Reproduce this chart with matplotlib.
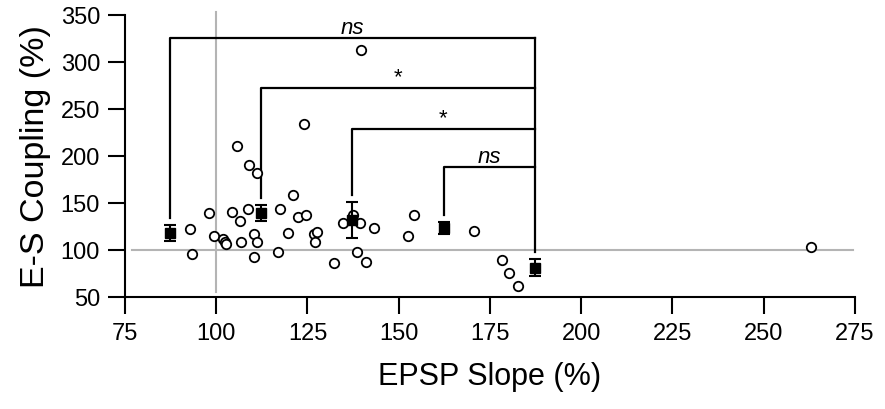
import matplotlib
matplotlib.use("Agg")
import matplotlib.pyplot as plt

plt.rcParams['font.family'] = ['Liberation Sans', 'DejaVu Sans']

# Individual cells: EPSP slope (%) vs E-S coupling (%)
epsp_slope = [92.8, 93.3, 98.1, 99.5, 101.8, 102.3, 102.6, 104.2, 105.6, 106.8,
              106.4, 108.6, 109.0, 110.3, 110.3, 111.2, 111.3, 117.0, 117.4, 119.6,
              120.9, 122.3, 124.0, 124.5, 126.7, 127.7, 127.1, 132.3, 134.6, 137.5,
              139.4, 138.5, 139.8, 141.1, 143.3, 152.6, 154.2, 170.5, 178.2, 180.1,
              182.7, 263.0]
es_coupling = [122.0, 96.1, 139.0, 114.6, 111.7, 108.8, 106.1, 140.1, 210.3, 108.2,
               130.5, 143.6, 190.1, 116.7, 92.6, 108.2, 181.9, 97.9, 143.6, 118.4,
               158.8, 134.8, 234.4, 137.6, 116.7, 118.8, 108.2, 86.2, 129.0, 137.6,
               129.0, 97.9, 312.8, 87.2, 123.4, 114.9, 137.6, 120.2, 89.4, 75.5,
               62.0, 102.9]

# Group means with SEM
group_x = [87.3, 112.2, 137.2, 162.4, 187.3]
group_mean = [118.0, 139.0, 132.0, 123.0, 81.0]
group_sem = [8.5, 8.5, 19.0, 6.5, 9.0]

# Comparisons of each group against the last one
bracket_level = [325.0, 272.0, 229.0, 188.0]
bracket_label = ["ns", "*", "*", "ns"]
bracket_italic = [True, False, False, True]
stem_gap = 8.0

x_ticks = [75, 100, 125, 150, 175, 200, 225, 250, 275]
y_ticks = [50, 100, 150, 200, 250, 300, 350]

fig = plt.figure(figsize=(8.85, 4.1), dpi=100)
ax = fig.add_axes([0.1412, 0.2732, 0.8249, 0.6878])
ax.set_xlim(75, 275)
ax.set_ylim(50, 350)

# reference lines at 100 %
ax.plot([77, 274.5], [100, 100], color="#b4b4b4", lw=1.5, zorder=1, clip_on=False)
ax.plot([100, 100], [55, 353], color="#b4b4b4", lw=1.5, zorder=1, clip_on=False)

ax.plot(epsp_slope, es_coupling, linestyle="none", marker="o", markersize=6.8,
        markerfacecolor="white", markeredgecolor="black", markeredgewidth=1.3, zorder=3)

ax.errorbar(group_x, group_mean, yerr=group_sem, fmt="s", color="black",
            markersize=7, elinewidth=1.5, capsize=4.2, capthick=1.5, zorder=4)

# significance brackets
ref_x = group_x[-1]
ref_top = group_mean[-1] + group_sem[-1] + stem_gap
ax.plot([ref_x, ref_x], [ref_top, max(bracket_level)], color="black", lw=1.6,
        zorder=2, clip_on=False)
for gx, gm, gs, lvl, lab, it in zip(group_x, group_mean, group_sem,
                                    bracket_level, bracket_label, bracket_italic):
    ax.plot([gx, gx, ref_x], [gm + gs + stem_gap, lvl, lvl], color="black",
            lw=1.6, zorder=2, clip_on=False)
    ax.annotate(lab, xy=((gx + ref_x) / 2, lvl), xytext=(0, 0.5),
                textcoords="offset points", ha="center", va="bottom",
                fontsize=16, style="italic" if it else "normal")

ax.set_xticks(x_ticks)
ax.set_yticks(y_ticks)
ax.tick_params(direction="out", length=12, width=1.5, labelsize=17, pad=6)
for side in ("top", "right"):
    ax.spines[side].set_visible(False)
for side in ("left", "bottom"):
    ax.spines[side].set_linewidth(1.5)

ax.set_xlabel("EPSP Slope (%)", fontsize=22, labelpad=12)
ax.set_ylabel("E-S Coupling (%)", fontsize=24.5, labelpad=7)

fig.savefig("out.png", dpi=100)
